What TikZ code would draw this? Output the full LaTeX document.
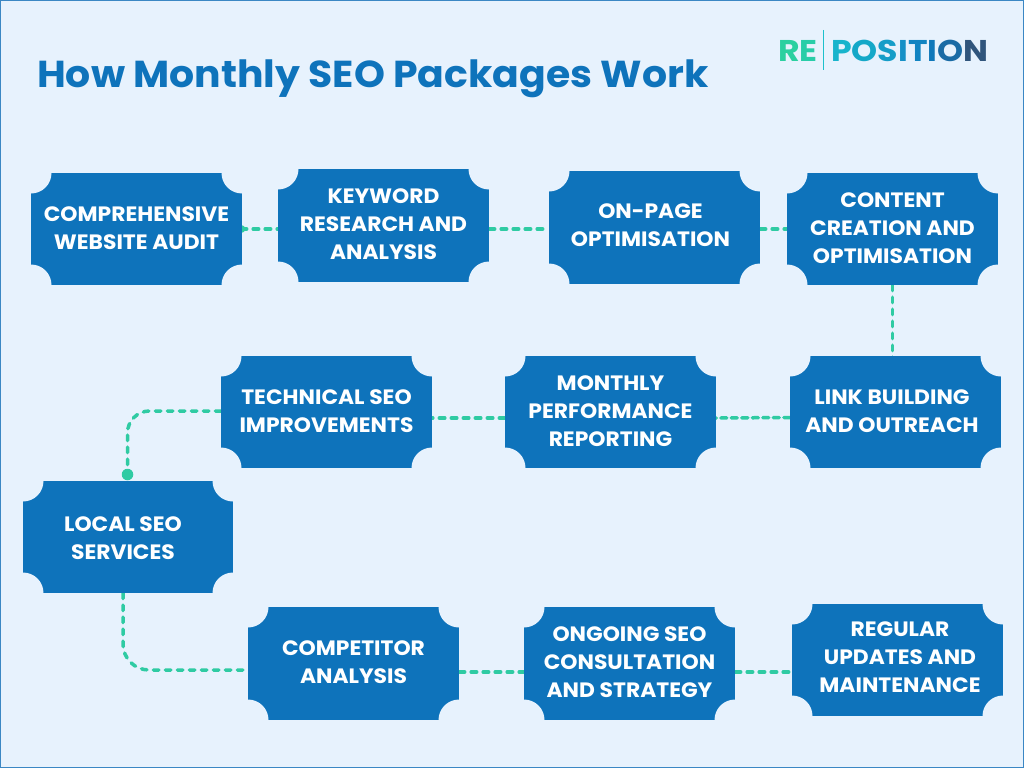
\documentclass[tikz,border=0pt]{standalone}
\usepackage{fontspec}
\setmainfont{Poppins}[FakeStretch=1.05]
\newfontfamily\logofont{Poppins}[FakeStretch=1.105]
\usetikzlibrary{backgrounds}
\definecolor{pagebg}{HTML}{E7F2FD}
\definecolor{boxblue}{HTML}{0E73BB}
\definecolor{linkgreen}{HTML}{2FCBA3}
\definecolor{edgeblue}{HTML}{3B87C4}
\definecolor{logoA}{HTML}{2BD0A0}
\definecolor{logoB}{HTML}{28CDA8}
\definecolor{logoC}{HTML}{1CC0CC}
\definecolor{logoD}{HTML}{18B4CC}
\definecolor{logoE}{HTML}{14A8C8}
\definecolor{logoF}{HTML}{159DC8}
\definecolor{logoG}{HTML}{1590C6}
\definecolor{logoH}{HTML}{1184C2}
\definecolor{logoI}{HTML}{0F78BA}
\definecolor{logoJ}{HTML}{1A6BA5}
\definecolor{logoL}{HTML}{30557C}
\tikzset{
  x=1pt,y=-1pt,
  stepbox/.style={
    rectangle,fill=boxblue,inner sep=0pt,
    minimum width=211pt,minimum height=112pt,
    path picture={
      \fill[pagebg] (path picture bounding box.north west) circle[radius=20.5pt];
      \fill[pagebg] (path picture bounding box.north east) circle[radius=20.5pt];
      \fill[pagebg] (path picture bounding box.south west) circle[radius=20.5pt];
      \fill[pagebg] (path picture bounding box.south east) circle[radius=20.5pt];
    }},
  tallbox/.style={stepbox,minimum height=113pt},
  steptext/.style={text=white,inner sep=0pt,align=center,
    font=\fontsize{20.8}{28}\selectfont\bfseries},
  link/.style={draw=linkgreen,line width=3.5pt,line cap=round,dash pattern=on 5.5pt off 6.5pt},
  denselink/.style={link,dash pattern=on 6pt off 4.5pt},
  linkdot/.style={circle,fill=linkgreen,inner sep=0pt},
  headline/.style={inner sep=0pt,anchor=base west,text=boxblue,font=\fontsize{37.5}{40}\selectfont\bfseries},
  logotext/.style={inner sep=0pt,anchor=base west,font=\logofont\fontsize{30}{30}\selectfont\bfseries},
}
\begin{document}
\begin{tikzpicture}
\useasboundingbox (0,0) rectangle (1024,768);
\node[headline] (title) at (37,87) {How Monthly SEO Packages Work};
\node[logotext] (logoleft) at (778,62) {\textcolor{logoA}{R}\textcolor{logoB}{E}};
\node[logotext] (logoright) at (831,62) {\textcolor{logoD}{P}\textcolor{logoE}{O}\textcolor{logoF}{S}\textcolor{logoG}{I}\textcolor{logoH}{T}\textcolor{logoI}{I}\textcolor{logoJ}{O}\textcolor{logoL}{N}};
\coordinate (bartop) at (823,30);
\coordinate (barbottom) at (823,70);
\draw[logoC,line width=1pt] (bartop) -- (barbottom);

\node[stepbox] (audit) at (136.5,229) {};
\node[tallbox] (keyword) at (383.5,225.5) {};
\node[tallbox] (onpage) at (654.5,227.5) {};
\node[stepbox] (content) at (892.5,229) {};
\node[stepbox] (links) at (895.5,412) {};
\node[stepbox] (report) at (610.5,412) {};
\node[stepbox] (tech) at (326.5,412) {};
\node[stepbox,minimum width=210pt] (local) at (128,537) {};
\node[tallbox] (rival) at (353.5,663.5) {};
\node[tallbox] (ongoing) at (629.5,663.5) {};
\node[stepbox] (updates) at (897.5,660) {};

\node[steptext] (audittext) at ([yshift=1pt]audit.center) {COMPREHENSIVE\\WEBSITE AUDIT};
\node[steptext] (keywordtext) at ([yshift=1pt]keyword.center) {KEYWORD\\RESEARCH AND\\ANALYSIS};
\node[steptext,xshift=-4pt,yshift=2pt] (onpagetext) at (onpage.center) {ON-PAGE\\OPTIMISATION};
\node[steptext,yshift=1pt] (contenttext) at (content.center) {CONTENT\\CREATION AND\\OPTIMISATION};
\node[steptext,xshift=-3.5pt,yshift=1pt] (linkstext) at (links.center) {LINK BUILDING\\AND OUTREACH};
\node[steptext,yshift=1pt] (reporttext) at (report.center) {MONTHLY\\PERFORMANCE\\REPORTING};
\node[steptext,yshift=1pt] (techtext) at (tech.center) {TECHNICAL SEO\\IMPROVEMENTS};
\node[steptext,xshift=-5pt,yshift=-1pt] (localtext) at (local.center) {LOCAL SEO\\SERVICES};
\node[steptext,yshift=1pt] (rivaltext) at (rival.center) {COMPETITOR\\ANALYSIS};
\node[steptext,yshift=1pt] (ongoingtext) at (ongoing.center) {ONGOING SEO\\CONSULTATION\\AND STRATEGY};
\node[steptext,xshift=2.5pt,yshift=3pt] (updatestext) at (updates.center) {REGULAR\\UPDATES AND\\MAINTENANCE};

\node[linkdot,minimum size=11.5pt] (techdot) at (127.5,474.5) {};
\begin{pgfonlayer}{background}
\fill[pagebg] (0,0) rectangle (1024,768);
\draw[edgeblue,line width=1pt] (0.5,0.5) rectangle (1023.5,767.5);
\node[linkdot,minimum size=8pt] (auditdot) at ([xshift=-1pt]audit.east) {};
\draw[link] (auditdot.center) -- (keyword.west |- auditdot);
\draw[link] ([yshift=-3.5pt]keyword.east) -- ([yshift=-1.5pt]onpage.west);
\draw[link] ([yshift=-1.5pt]onpage.east) -- (content.west);
\draw[link] (content.south) -- (links.west -| content.south);
\draw[denselink] ([yshift=-5.5pt]links.west) -- ([yshift=-6pt]report.east);
\draw[link] ([yshift=-6pt]report.west) -- ([yshift=-6pt]tech.east);
\draw[link,rounded corners=22pt] ([yshift=1pt]tech.west) -| (techdot.center);
\draw[link,rounded corners=26pt] ([xshift=-5pt]local.south) |- ([yshift=-6.5pt]rival.west);
\draw[link] ([yshift=-8.5pt]rival.east) -- ([yshift=-8.5pt]ongoing.west);
\draw[link] ([yshift=-8.5pt]ongoing.east) -- ([yshift=-12pt]updates.west);
\end{pgfonlayer}
\end{tikzpicture}
\end{document}
